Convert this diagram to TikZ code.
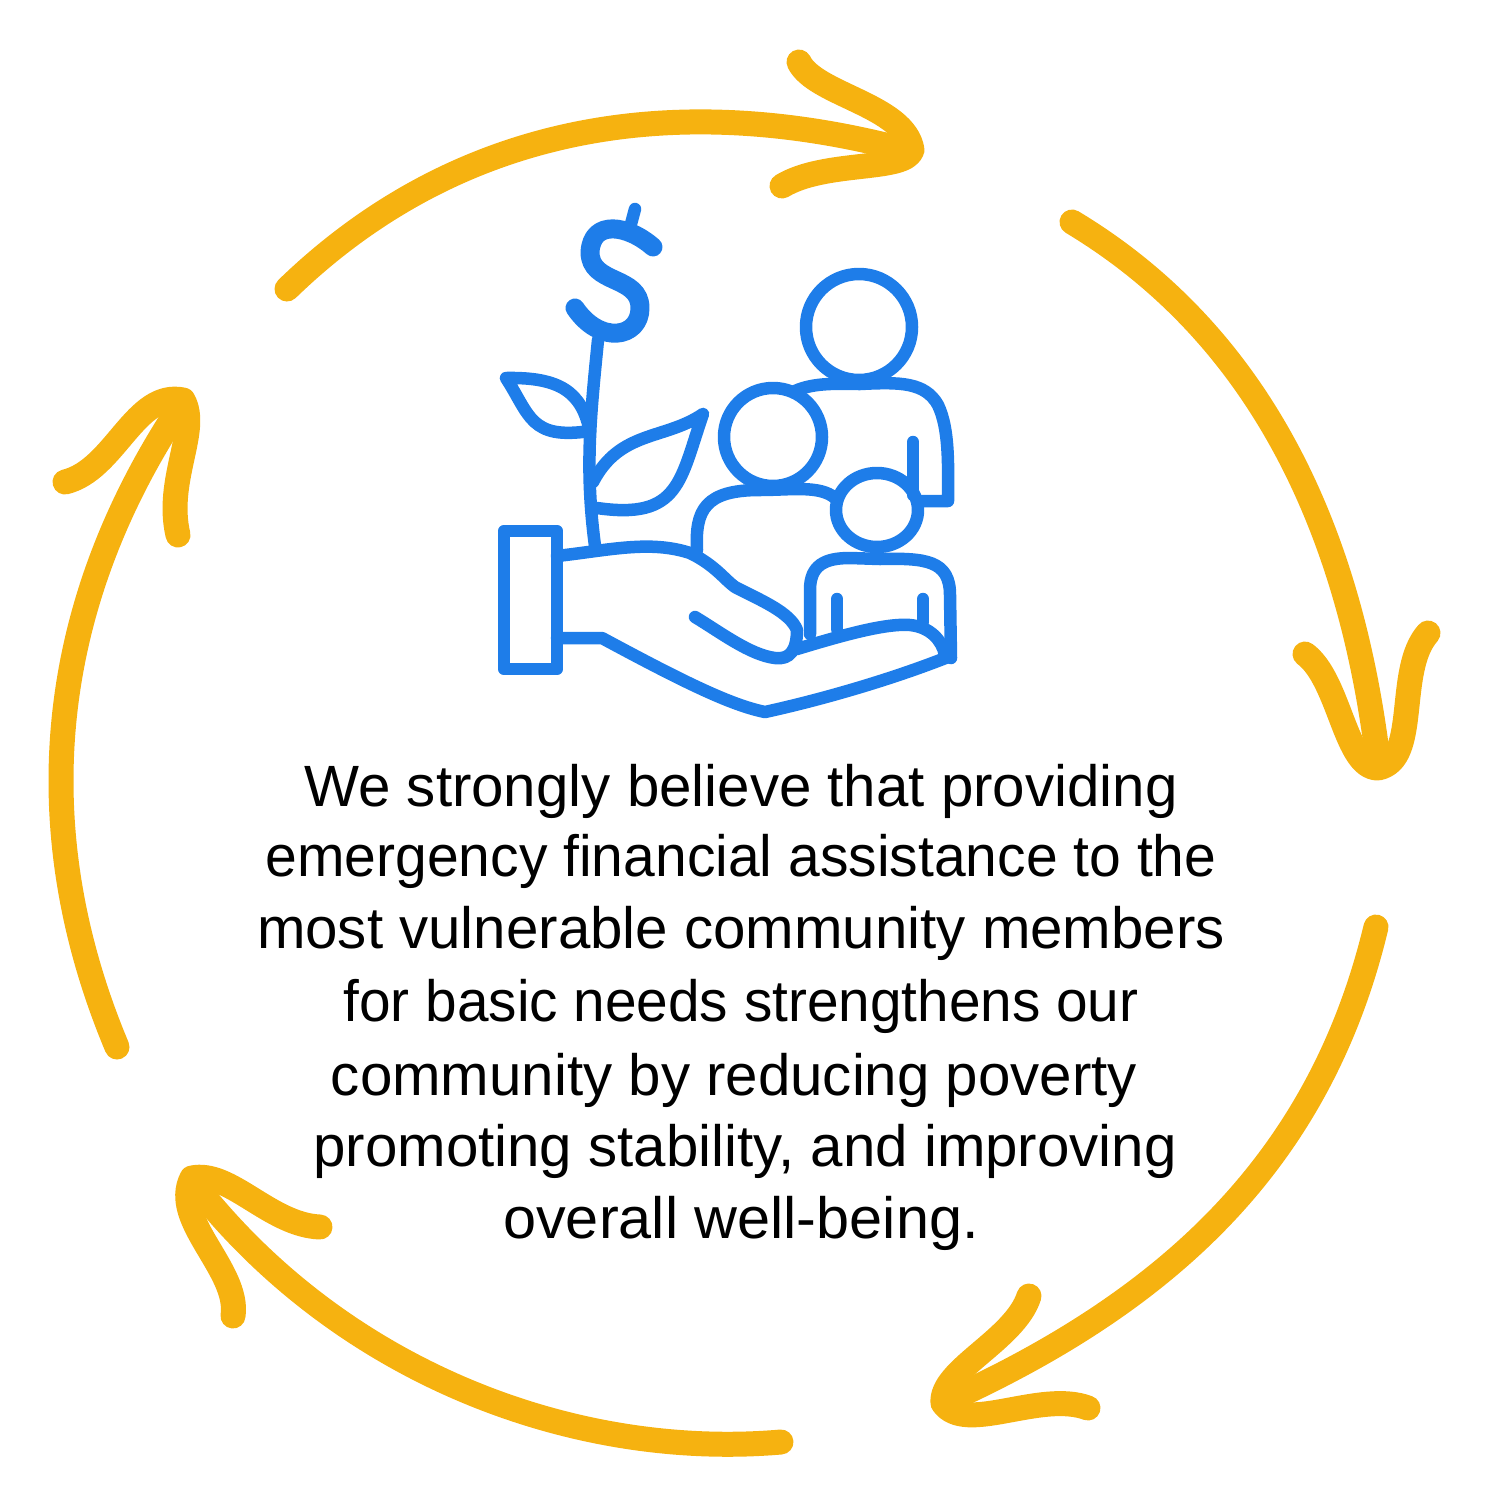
\documentclass[tikz,border=0pt]{standalone}
\usepackage{graphicx}
\usepackage{fontspec}
\setmainfont{Liberation Sans}
\definecolor{cycleorange}{HTML}{F6B210}
\definecolor{iconblue}{HTML}{1E7DE9}

\begin{document}
\begin{tikzpicture}[x=1pt,y=-1pt,
  cyclearrow/.style={draw=cycleorange,line width=25pt,line cap=round,line join=round},
  iconline/.style={draw=iconblue,line width=12.5pt,line cap=round,line join=round},
  message/.style={align=center,inner sep=0pt,font=\fontsize{58.25}{72}\selectfont}]
  \useasboundingbox (0,0) rectangle (1500,1500);

  \draw[cyclearrow] (287,289) .. controls (420,160) and (620,75) .. (905,150);
  \draw[cyclearrow] (799,62) .. controls (815,95) and (905,105) .. (912,150) .. controls (905,172) and (825,160) .. (782,186);
  \draw[cyclearrow] (1072,222) .. controls (1260,335) and (1350,530) .. (1378,760);
  \draw[cyclearrow] (1305,654) .. controls (1340,680) and (1345,768) .. (1378,768) .. controls (1420,760) and (1395,670) .. (1428,633);
  \draw[cyclearrow] (1376,927) .. controls (1320,1160) and (1170,1300) .. (945,1402);
  \draw[cyclearrow] (1029,1296) .. controls (1015,1340) and (940,1370) .. (943,1403) .. controls (965,1435) and (1040,1390) .. (1088,1408);
  \draw[cyclearrow] (781,1442) .. controls (570,1460) and (340,1370) .. (195,1185);
  \draw[cyclearrow] (320,1227) .. controls (270,1225) and (230,1170) .. (192,1178) .. controls (170,1220) and (240,1270) .. (233,1316);
  \draw[cyclearrow] (117,1047) .. controls (30,840) and (40,620) .. (178,410);
  \draw[cyclearrow] (65,482) .. controls (115,470) and (135,390) .. (183,400) .. controls (200,430) and (165,480) .. (178,535);

  \draw[iconline,line width=19pt] (653,247) .. controls (628,225) and (592,219) .. (590,252) .. controls (590,285) and (640,275) .. (640,308) .. controls (640,338) and (600,345) .. (575,308);
  \draw[iconline] (635,209) -- (631,224);
  \draw[iconline] (598,340) .. controls (590,420) and (585,470) .. (595,546);
  \draw[iconline] (590,432) .. controls (582,392) and (560,377) .. (506,378) .. controls (530,415) and (530,440) .. (590,431);
  \draw[iconline] (593,482) .. controls (620,430) and (665,440) .. (703,414) .. controls (680,480) and (680,520) .. (597,508);

  \draw[iconline] (504,531) rectangle (557,669);
  \draw[iconline] (557,556) .. controls (610,550) and (650,540) .. (690,553) .. controls (715,565) and (725,580) .. (735,587) .. controls (760,600) and (790,612) .. (797,630) .. controls (797,650) and (790,660) .. (775,658) .. controls (750,655) and (720,632) .. (695,617);
  \draw[iconline] (557,638) -- (602,638) .. controls (680,680) and (730,705) .. (765,712) .. controls (820,700) and (890,680) .. (948,657);
  \draw[iconline] (797,649) .. controls (840,636) and (885,623) .. (910,625) .. controls (930,627) and (942,640) .. (945,655);

  \draw[iconline] (859,327) circle (53);
  \draw[iconline] (795,391) .. controls (815,382) and (840,384) .. (860,384) .. controls (900,382) and (925,382) .. (938,405) .. controls (950,430) and (948,470) .. (948,501) -- (918,501);
  \draw[iconline] (913,442) -- (913,495);
  \draw[iconline] (773,437) circle (49);
  \draw[iconline] (697,550) .. controls (695,510) and (705,490) .. (760,490) .. controls (790,490) and (820,485) .. (835,498);
  \draw[iconline] (877,510) ellipse (41 and 37);
  \draw[iconline] (810,634) -- (810,590) .. controls (810,565) and (825,558) .. (850,558) -- (880,559) .. controls (925,558) and (950,560) .. (950,595) -- (951,658);
  \draw[iconline] (837,599) -- (837,629);
  \draw[iconline] (923,599) -- (923,622);

  \node[message] (beliefs) at (741,1007) {We strongly believe that providing\\[-2pt]
    \scalebox{.979}[1]{emergency financial assistance to the}\\
    most vulnerable community members\\[1pt]
    \scalebox{.974}[1]{for basic needs strengthens our}\\[2pt]
    community by reducing poverty\hspace*{14pt}\null\\[-1pt]
    \hspace*{8pt}promoting stability, and improving\\
    \scalebox{1.02}[1]{overall well-being.}};
\end{tikzpicture}
\end{document}
